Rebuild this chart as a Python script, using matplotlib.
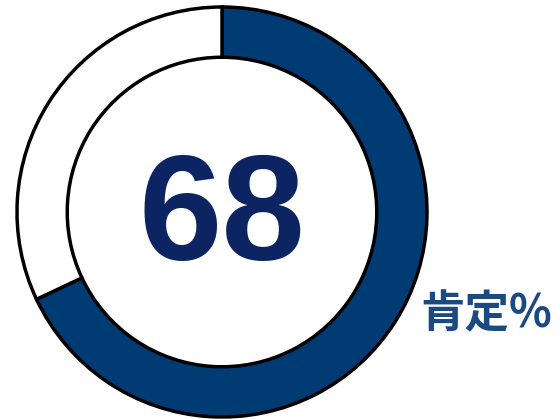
import matplotlib.pyplot as plt

labels = ["肯定", "その他"]
values = [68, 32]
colors = ["#003B73", "#FFFFFF"]
center_text = "68"
side_label = "肯定%"

fig = plt.figure(figsize=(5.6, 4.19), dpi=100)
ax = fig.add_axes([0, 0, 1, 1])

r = 205.0
ax.pie(values, colors=colors, startangle=90, counterclock=False, radius=1,
       wedgeprops=dict(width=0.245, edgecolor="black", linewidth=2.5))

ax.set_xlim(-222 / r, (560 - 222) / r)
ax.set_ylim(-207 / r, 212 / r)
ax.set_aspect("equal")
ax.axis("off")

ax.text(0, -0.045, center_text, ha="center", va="center", fontsize=108,
        fontweight="bold", color="#0C2461", family="Liberation Sans")
ax.text(1.29, -0.5, side_label, ha="center", va="center", fontsize=32,
        fontweight="bold", color="#1B4A82",
        family=["Noto Sans CJK JP", "DejaVu Sans"])

fig.savefig("out.png", dpi=100)
